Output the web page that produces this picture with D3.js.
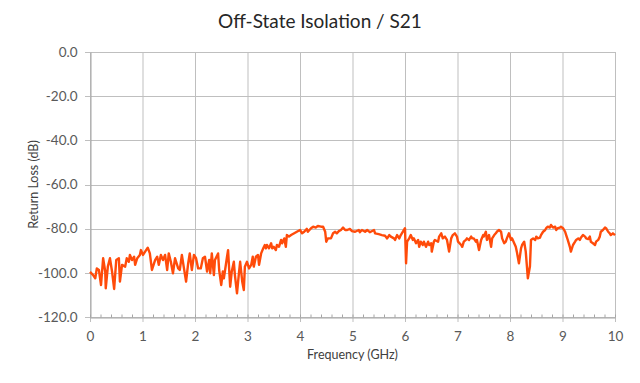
<!DOCTYPE html>
<html>
<head>
<meta charset="utf-8">
<script src="https://cdn.jsdelivr.net/npm/d3@7/dist/d3.min.js"></script>
<style>
    body { margin: 0; background: #fff; }
    .axis text { font-family: Lato, "Open Sans", sans-serif; fill: #595959; }
</style>
</head>
<body>
<div class="content-padded"></div>
<script>

// frequency (GHz) and S21 (dB)
let freq = [
    0.00, 0.06, 0.10, 0.13, 0.17, 0.21, 0.25, 0.29, 0.30, 0.34, 0.38, 0.42, 0.46, 0.50, 0.55, 0.57, 0.61, 0.67, 0.70, 0.74,
    0.76, 0.80, 0.84, 0.86, 0.90, 0.95, 0.97, 1.01, 1.05, 1.10, 1.14, 1.18, 1.24, 1.28, 1.31, 1.35, 1.39, 1.43, 1.47, 1.50,
    1.54, 1.58, 1.62, 1.68, 1.71, 1.75, 1.79, 1.83, 1.87, 1.90, 1.94, 1.98, 2.02, 2.06, 2.11, 2.15, 2.19, 2.23, 2.27, 2.29,
    2.32, 2.36, 2.38, 2.44, 2.46, 2.50, 2.53, 2.55, 2.61, 2.63, 2.67, 2.70, 2.74, 2.76, 2.80, 2.84, 2.86, 2.90, 2.93, 2.95,
    2.99, 3.03, 3.07, 3.10, 3.12, 3.16, 3.20, 3.22, 3.26, 3.30, 3.33, 3.35, 3.37, 3.41, 3.45, 3.47, 3.50, 3.54, 3.56, 3.60,
    3.64, 3.66, 3.70, 3.73, 3.75, 3.79, 3.83, 3.89, 3.94, 4.00, 4.04, 4.08, 4.13, 4.15, 4.21, 4.25, 4.30, 4.34, 4.40, 4.44,
    4.48, 4.50, 4.53, 4.59, 4.63, 4.67, 4.70, 4.74, 4.78, 4.82, 4.86, 4.90, 4.95, 4.99, 5.05, 5.12, 5.14, 5.18, 5.24, 5.28,
    5.33, 5.41, 5.43, 5.50, 5.56, 5.62, 5.66, 5.70, 5.73, 5.79, 5.81, 5.85, 5.89, 5.92, 5.98, 6.00, 6.02, 6.04, 6.08, 6.11,
    6.15, 6.17, 6.21, 6.25, 6.27, 6.30, 6.34, 6.36, 6.40, 6.44, 6.46, 6.50, 6.51, 6.55, 6.57, 6.63, 6.65, 6.69, 6.72, 6.76,
    6.80, 6.84, 6.88, 6.91, 6.95, 6.99, 7.01, 7.07, 7.09, 7.12, 7.16, 7.18, 7.22, 7.26, 7.28, 7.31, 7.35, 7.37, 7.41, 7.45,
    7.49, 7.50, 7.54, 7.56, 7.60, 7.64, 7.66, 7.70, 7.73, 7.75, 7.79, 7.83, 7.85, 7.89, 7.92, 7.94, 7.98, 8.02, 8.04, 8.08,
    8.11, 8.13, 8.17, 8.21, 8.23, 8.27, 8.30, 8.32, 8.34, 8.38, 8.40, 8.44, 8.48, 8.50, 8.53, 8.57, 8.59, 8.63, 8.67, 8.69,
    8.72, 8.76, 8.78, 8.82, 8.86, 8.88, 8.91, 8.95, 8.97, 9.01, 9.05, 9.07, 9.10, 9.14, 9.16, 9.20, 9.24, 9.26, 9.30, 9.33,
    9.35, 9.39, 9.43, 9.45, 9.49, 9.52, 9.54, 9.58, 9.62, 9.64, 9.68, 9.71, 9.73, 9.77, 9.81, 9.83, 9.87, 9.90, 9.92, 9.96,
    10.00
];

let s21 = [
    -99.6, -101.0, -102.5, -98.0, -98.7, -105.5, -93.4, -99.4, -107.0, -97.2, -93.4, -99.4, -107.3, -94.2, -93.4, -104.0, -96.4, -97.2, -93.4, -95.0,
    -91.9, -94.2, -92.7, -96.4, -93.4, -91.9, -89.7, -91.9, -90.4, -88.6, -91.2, -98.7, -94.2, -92.7, -96.4, -91.9, -94.2, -91.9, -98.7, -91.2,
    -95.0, -100.2, -93.4, -98.0, -98.7, -91.9, -98.0, -104.0, -95.7, -91.2, -98.7, -91.9, -93.4, -98.0, -98.0, -93.4, -92.7, -99.4, -94.2, -100.2,
    -91.2, -101.0, -94.2, -91.2, -98.7, -105.5, -99.4, -102.5, -92.7, -89.7, -106.3, -99.4, -95.0, -101.0, -109.3, -99.4, -95.0, -104.0, -107.8, -97.2,
    -95.0, -98.0, -96.4, -92.7, -97.2, -92.7, -91.9, -96.4, -91.2, -88.9, -87.4, -88.9, -87.4, -88.9, -86.6, -88.9, -88.2, -89.7, -87.4, -88.2,
    -85.1, -86.6, -84.4, -88.2, -82.9, -83.6, -82.9, -82.1, -81.4, -80.6, -82.1, -81.4, -80.1, -81.4, -79.8, -79.1, -79.5, -78.8, -79.1, -79.1,
    -81.4, -85.9, -84.4, -84.4, -82.1, -81.4, -82.1, -81.1, -80.6, -79.5, -80.6, -80.6, -80.1, -81.1, -81.4, -80.6, -81.6, -80.6, -81.4, -80.6,
    -81.6, -80.6, -82.1, -82.5, -82.9, -83.2, -84.4, -82.9, -83.6, -84.4, -85.1, -82.9, -84.4, -82.9, -80.6, -79.8, -95.7, -85.9, -84.4, -82.9,
    -85.1, -84.4, -86.6, -85.1, -88.2, -85.9, -87.4, -85.9, -88.2, -85.9, -87.4, -86.6, -90.4, -85.9, -85.1, -85.9, -83.6, -82.1, -84.4, -83.6,
    -85.1, -90.4, -84.4, -82.9, -82.1, -83.6, -85.9, -87.4, -88.2, -85.9, -85.1, -84.4, -85.1, -83.6, -84.4, -84.4, -85.9, -85.1, -89.7, -85.1,
    -82.9, -83.6, -81.4, -85.1, -82.9, -88.2, -84.4, -82.9, -82.1, -81.4, -80.6, -81.4, -84.4, -86.6, -85.9, -84.4, -82.1, -85.1, -84.4, -86.6,
    -88.2, -90.4, -95.7, -88.9, -87.4, -85.9, -90.4, -96.4, -102.5, -97.0, -85.1, -84.4, -85.1, -83.6, -84.4, -84.1, -82.9, -81.4, -80.6, -79.8,
    -79.1, -79.5, -78.3, -79.5, -79.1, -80.6, -79.8, -79.5, -79.1, -79.8, -81.4, -82.9, -85.1, -88.2, -90.4, -87.4, -85.9, -85.1, -84.4, -85.1,
    -84.1, -82.9, -83.6, -84.4, -84.7, -83.6, -85.9, -86.6, -87.4, -85.9, -85.1, -83.6, -81.4, -80.6, -79.5, -79.8, -81.4, -82.1, -82.9, -82.1,
    -82.9
];

let xTicks = [0, 1, 2, 3, 4, 5, 6, 7, 8, 9, 10];
let xMinorTicks = d3.range(0, 10.001, 0.2);
let yTicks = [0, -20, -40, -60, -80, -100, -120];

let chartTitle = "Off-State Isolation / S21";
let xTitle = "Frequency (GHz)";
let yTitle = "Return Loss (dB)";


function IsolationChart() {
    this.draw();
}

IsolationChart.prototype.draw = function () {
    let width = 640;
    let height = 383;
    let left = 90, right = 615, top = 52, bottom = 317;
    let font = "Lato, 'Open Sans', sans-serif";

    let svg = d3.select(".content-padded")
        .append("svg")
        .attr("width", width)
        .attr("height", height)
        .attr("style", "background-color:#ffffff; display:block");

    /* Scales */
    let xScale = d3.scaleLinear()
        .domain([0, 10])
        .range([left, right]);

    let yScale = d3.scaleLinear()
        .domain([-120, 0])
        .range([bottom, top]);

    // gridlines
    svg.append("g")
        .selectAll("line")
        .data(xTicks)
        .enter()
        .append("line")
        .attr("x1", d => xScale(d) + 0.5)
        .attr("x2", d => xScale(d) + 0.5)
        .attr("y1", top)
        .attr("y2", bottom + 5)
        .attr("stroke", "#bfbfbf");

    svg.append("g")
        .selectAll("line")
        .data(yTicks)
        .enter()
        .append("line")
        .attr("x1", left - 5)
        .attr("x2", right)
        .attr("y1", d => Math.round(yScale(d)) + 0.5)
        .attr("y2", d => Math.round(yScale(d)) + 0.5)
        .attr("stroke", "#bfbfbf");

    /* X axis */
    let xAxis = d3.axisBottom()
        .scale(xScale)
        .tickValues(xTicks)
        .tickFormat(d3.format("d"))
        .tickSize(0)
        .tickPadding(14);

    let gx = svg.append("g")
        .attr("class", "axis")
        .attr("transform", "translate(0," + (bottom + 0.5) + ")")
        .call(xAxis);
    gx.select(".domain").attr("stroke", "#a6a6a6");
    gx.selectAll("text").attr("font-size", 13.5);

    // minor ticks sit above the axis line
    gx.selectAll(".minor")
        .data(xMinorTicks)
        .enter()
        .append("line")
        .attr("class", "minor")
        .attr("x1", d => xScale(d) + 0.5)
        .attr("x2", d => xScale(d) + 0.5)
        .attr("y1", 0)
        .attr("y2", -3)
        .attr("stroke", "#a6a6a6");

    /* Y axis - plain hyphen for the minus sign, like the original */
    let yAxis = d3.axisLeft()
        .scale(yScale)
        .tickValues(yTicks)
        .tickFormat(d => d.toFixed(1))
        .tickSize(0)
        .tickPadding(13);

    let gy = svg.append("g")
        .attr("class", "axis")
        .attr("transform", "translate(" + (left + 0.5) + ",0)")
        .call(yAxis);
    gy.select(".domain").attr("stroke", "#a6a6a6");
    gy.selectAll("text").attr("font-size", 13.5);

    /* Trace */
    let line = d3.line()
        .x((d, i) => xScale(freq[i]))
        .y(d => yScale(d));

    svg.append("path")
        .datum(s21)
        .attr("d", line)
        .attr("fill", "none")
        .attr("stroke", "#ff4b0a")
        .attr("stroke-width", 2.4)
        .attr("stroke-linejoin", "round");

    /* Titles */
    svg.append("text")
        .attr("x", 320)
        .attr("y", 28)
        .attr("text-anchor", "middle")
        .attr("font-family", font)
        .attr("font-size", 19)
        .attr("fill", "#262626")
        .text(chartTitle);

    svg.append("text")
        .attr("x", (left + right) / 2)
        .attr("y", 359)
        .attr("text-anchor", "middle")
        .attr("font-family", font)
        .attr("font-size", 12.5)
        .attr("fill", "#404040")
        .text(xTitle);

    svg.append("text")
        .attr("transform", "translate(38," + ((top + bottom) / 2) + ") rotate(-90)")
        .attr("text-anchor", "middle")
        .attr("font-family", font)
        .attr("font-size", 12.5)
        .attr("fill", "#404040")
        .text(yTitle);
}

new IsolationChart();
</script>
</body>
</html>
